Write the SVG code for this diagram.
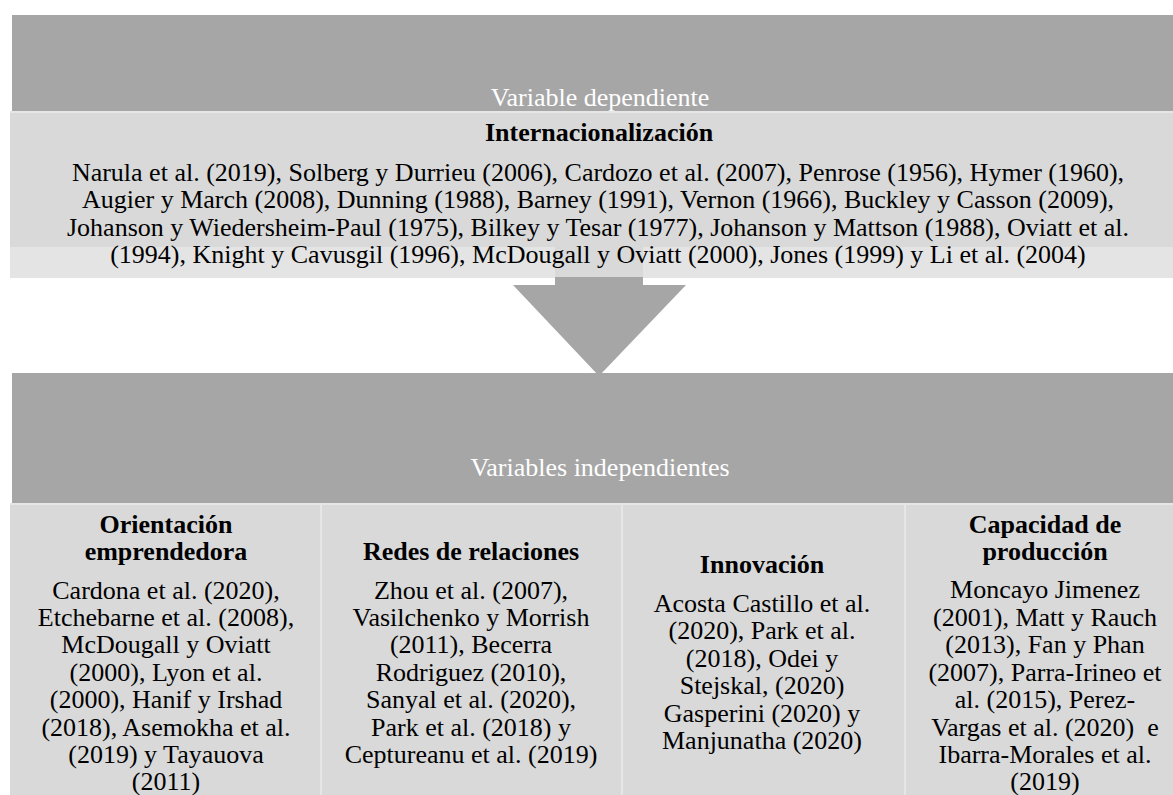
<svg xmlns="http://www.w3.org/2000/svg" width="1173" height="795" viewBox="0 0 1173 795">
<style>
text{font-family:'Liberation Serif','Times New Roman',Times,'DejaVu Serif',serif;font-size:26px;text-anchor:middle;fill:#000}
.hdr{fill:#ffffff}
.b{font-weight:bold}
.band{fill:#a6a6a6}
.cell{fill:#d9d9d9}
.sep{stroke:#e6e6e6;stroke-width:2}
</style>
<rect width="1173" height="795" fill="#ffffff"/>
<g id="dependiente">
<rect class="band" x="12" y="15" width="1161" height="96"/>
<text class="hdr" x="600" y="106">Variable dependiente</text>
<rect class="cell" x="10" y="111" width="1163" height="136"/>
<rect x="10" y="247" width="1163" height="31" fill="#e4e4e4"/>
<rect x="555" y="247" width="88" height="31" fill="#d9d9d9"/>
<line class="sep" x1="10" y1="112" x2="1173" y2="112"/>
<text class="b" x="599" y="141">Internacionalización</text>
<text x="598" y="181">Narula et al. (2019), Solberg y Durrieu (2006), Cardozo et al. (2007), Penrose (1956), Hymer (1960),</text>
<text x="598" y="208">Augier y March (2008), Dunning (1988), Barney (1991), Vernon (1966), Buckley y Casson (2009),</text>
<text x="598" y="236">Johanson y Wiedersheim-Paul (1975), Bilkey y Tesar (1977), Johanson y Mattson (1988), Oviatt et al.</text>
<text x="598" y="263">(1994), Knight y Cavusgil (1996), McDougall y Oviatt (2000), Jones (1999) y Li et al. (2004)</text>
</g>
<g id="connectors">
<polygon class="band" points="555,277 643,277 643,285 686,285 599,376 513,285 555,285"/>
</g>
<g id="independientes">
<rect class="band" x="12" y="373" width="1161" height="130"/>
<text class="hdr" x="600" y="476">Variables independientes</text>
<rect class="cell" x="10" y="503" width="1163" height="292"/>
<line class="sep" x1="10" y1="504" x2="1173" y2="504"/>
<line class="sep" x1="321" y1="504" x2="321" y2="795"/>
<line class="sep" x1="622" y1="504" x2="622" y2="795"/>
<line class="sep" x1="905" y1="504" x2="905" y2="795"/>
</g>
<g id="orientacion">
<text class="b" x="166" y="533">Orientación</text>
<text class="b" x="166" y="560">emprendedora</text>
<text x="166" y="599">Cardona et al. (2020),</text>
<text x="166" y="626">Etchebarne et al. (2008),</text>
<text x="166" y="653">McDougall y Oviatt</text>
<text x="166" y="681">(2000), Lyon et al.</text>
<text x="166" y="708">(2000), Hanif y Irshad</text>
<text x="166" y="736">(2018), Asemokha et al.</text>
<text x="166" y="763">(2019) y Tayauova</text>
<text x="166" y="790">(2011)</text>
</g>
<g id="redes">
<text class="b" x="471" y="560">Redes de relaciones</text>
<text x="471" y="599">Zhou et al. (2007),</text>
<text x="471" y="626">Vasilchenko y Morrish</text>
<text x="471" y="653">(2011), Becerra</text>
<text x="471" y="681">Rodriguez (2010),</text>
<text x="471" y="708">Sanyal et al. (2020),</text>
<text x="471" y="736">Park et al. (2018) y</text>
<text x="471" y="763">Ceptureanu et al. (2019)</text>
</g>
<g id="innovacion">
<text class="b" x="762" y="573">Innovación</text>
<text x="762" y="612">Acosta Castillo et al.</text>
<text x="762" y="639">(2020), Park et al.</text>
<text x="762" y="667">(2018), Odei y</text>
<text x="762" y="694">Stejskal, (2020)</text>
<text x="762" y="722">Gasperini (2020) y</text>
<text x="762" y="749">Manjunatha (2020)</text>
</g>
<g id="capacidad">
<text class="b" x="1045" y="533">Capacidad de</text>
<text class="b" x="1045" y="560">producción</text>
<text x="1045" y="598">Moncayo Jimenez</text>
<text x="1045" y="626">(2001), Matt y Rauch</text>
<text x="1045" y="653">(2013), Fan y Phan</text>
<text x="1045" y="681">(2007), Parra-Irineo et</text>
<text x="1045" y="708">al. (2015), Perez-</text>
<text x="1045" y="736" style="white-space:pre">Vargas et al. (2020)  e</text>
<text x="1045" y="763">Ibarra-Morales et al.</text>
<text x="1045" y="790">(2019)</text>
</g>
</svg>
